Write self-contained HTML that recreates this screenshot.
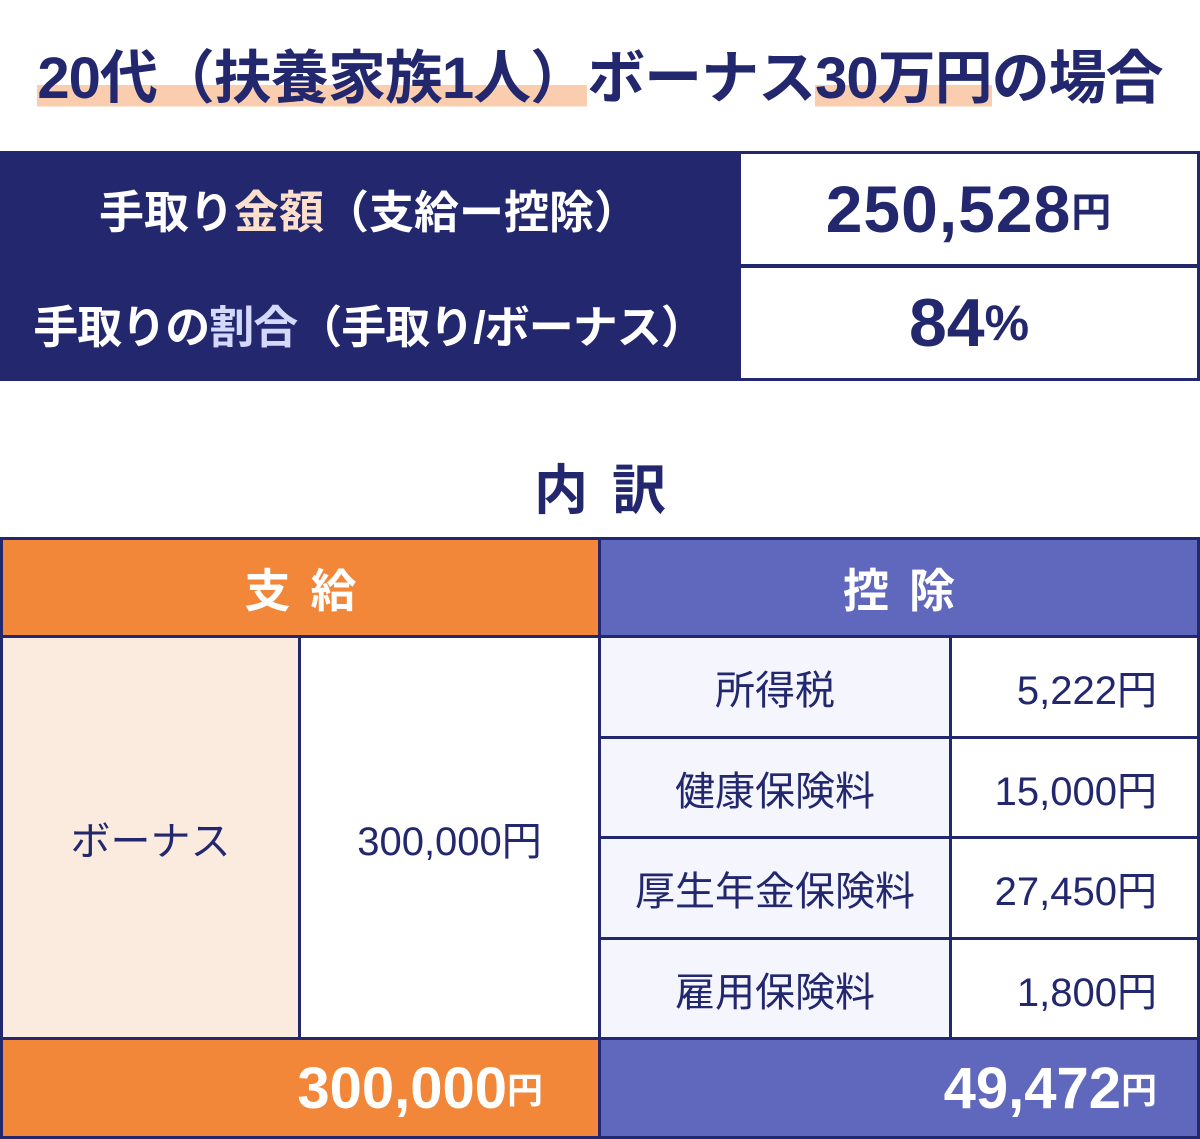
<!DOCTYPE html>
<html><head><meta charset="utf-8"><style>
*{margin:0;padding:0;box-sizing:border-box}
body{width:1200px;height:1139px;background:#fff;position:relative;overflow:hidden;font-family:"Liberation Sans","Noto Sans CJK JP",sans-serif;color:#22276e}
.a{position:absolute;display:flex;align-items:center;justify-content:center;white-space:nowrap}
.b{font-weight:bold}
.hl{background:linear-gradient(to bottom,transparent 64%,#f9cdae 64%,#f9cdae 90%,transparent 90%)}
</style></head><body>
<div class="a b" style="left:0;top:31px;width:1200px;height:84px;font-size:58px;letter-spacing:-1px">
<span class="hl">20代（扶養家族1人）</span><span>ボーナス</span><span class="hl">30万円</span><span>の場合</span></div>

<div class="a" style="left:0;top:151px;width:1200px;height:230px;background:#22276e"></div>
<div class="a b" style="left:0;top:151px;width:738px;height:114px;color:#fff;font-size:45px">手取り<span style="color:#fde0cb">金額</span>（支給ー控除）</div>
<div class="a b" style="left:0;top:267px;width:738px;height:113px;color:#fff;font-size:45px;letter-spacing:-1px">手取りの<span style="color:#d4d8fb">割合</span>（手取り/ボーナス）</div>
<div class="a b" style="left:741px;top:154px;width:456px;height:110px;background:#fff;font-size:66px;letter-spacing:1px">250,528<span style="font-size:40px">円</span></div>
<div class="a b" style="left:741px;top:268px;width:456px;height:110px;background:#fff;font-size:68px">84<span style="font-size:50px">%</span></div>

<div class="a b" style="left:0;top:450px;width:1200px;height:70px;font-size:54px;letter-spacing:24px;padding-left:24px">内訳</div>

<div class="a" style="left:0;top:537px;width:1200px;height:602px;background:#22276e"></div>
<div class="a b" style="left:3px;top:540px;width:595px;height:95px;background:#f2873a;color:#fff;font-size:46px;letter-spacing:20px;padding-left:20px">支給</div>
<div class="a b" style="left:601px;top:540px;width:596px;height:95px;background:#6068bd;color:#fff;font-size:46px;letter-spacing:20px;padding-left:20px">控除</div>
<div class="a" style="left:3px;top:638px;width:295px;height:399px;background:#fbebdf;font-size:40px">ボーナス</div>
<div class="a" style="left:301px;top:638px;width:297px;height:399px;background:#fff;font-size:40px">300,000円</div>

<div class="a" style="left:601px;top:638px;width:348px;height:98px;background:#f4f5fd;font-size:40px">所得税</div>
<div class="a" style="left:952px;top:638px;width:245px;height:98px;background:#fff;font-size:40px;justify-content:flex-end;padding-right:40px">5,222円</div>
<div class="a" style="left:601px;top:739px;width:348px;height:97px;background:#f4f5fd;font-size:40px">健康保険料</div>
<div class="a" style="left:952px;top:739px;width:245px;height:97px;background:#fff;font-size:40px;justify-content:flex-end;padding-right:40px">15,000円</div>
<div class="a" style="left:601px;top:839px;width:348px;height:98px;background:#f4f5fd;font-size:40px">厚生年金保険料</div>
<div class="a" style="left:952px;top:839px;width:245px;height:98px;background:#fff;font-size:40px;justify-content:flex-end;padding-right:40px">27,450円</div>
<div class="a" style="left:601px;top:940px;width:348px;height:97px;background:#f4f5fd;font-size:40px">雇用保険料</div>
<div class="a" style="left:952px;top:940px;width:245px;height:97px;background:#fff;font-size:40px;justify-content:flex-end;padding-right:40px">1,800円</div>

<div class="a b" style="left:3px;top:1040px;width:595px;height:96px;background:#f2873a;color:#fff;font-size:58px;justify-content:flex-end;padding-right:55px">300,000<span style="font-size:36px">円</span></div>
<div class="a b" style="left:601px;top:1040px;width:596px;height:96px;background:#6068bd;color:#fff;font-size:58px;justify-content:flex-end;padding-right:40px">49,472<span style="font-size:36px">円</span></div>
</body></html>
